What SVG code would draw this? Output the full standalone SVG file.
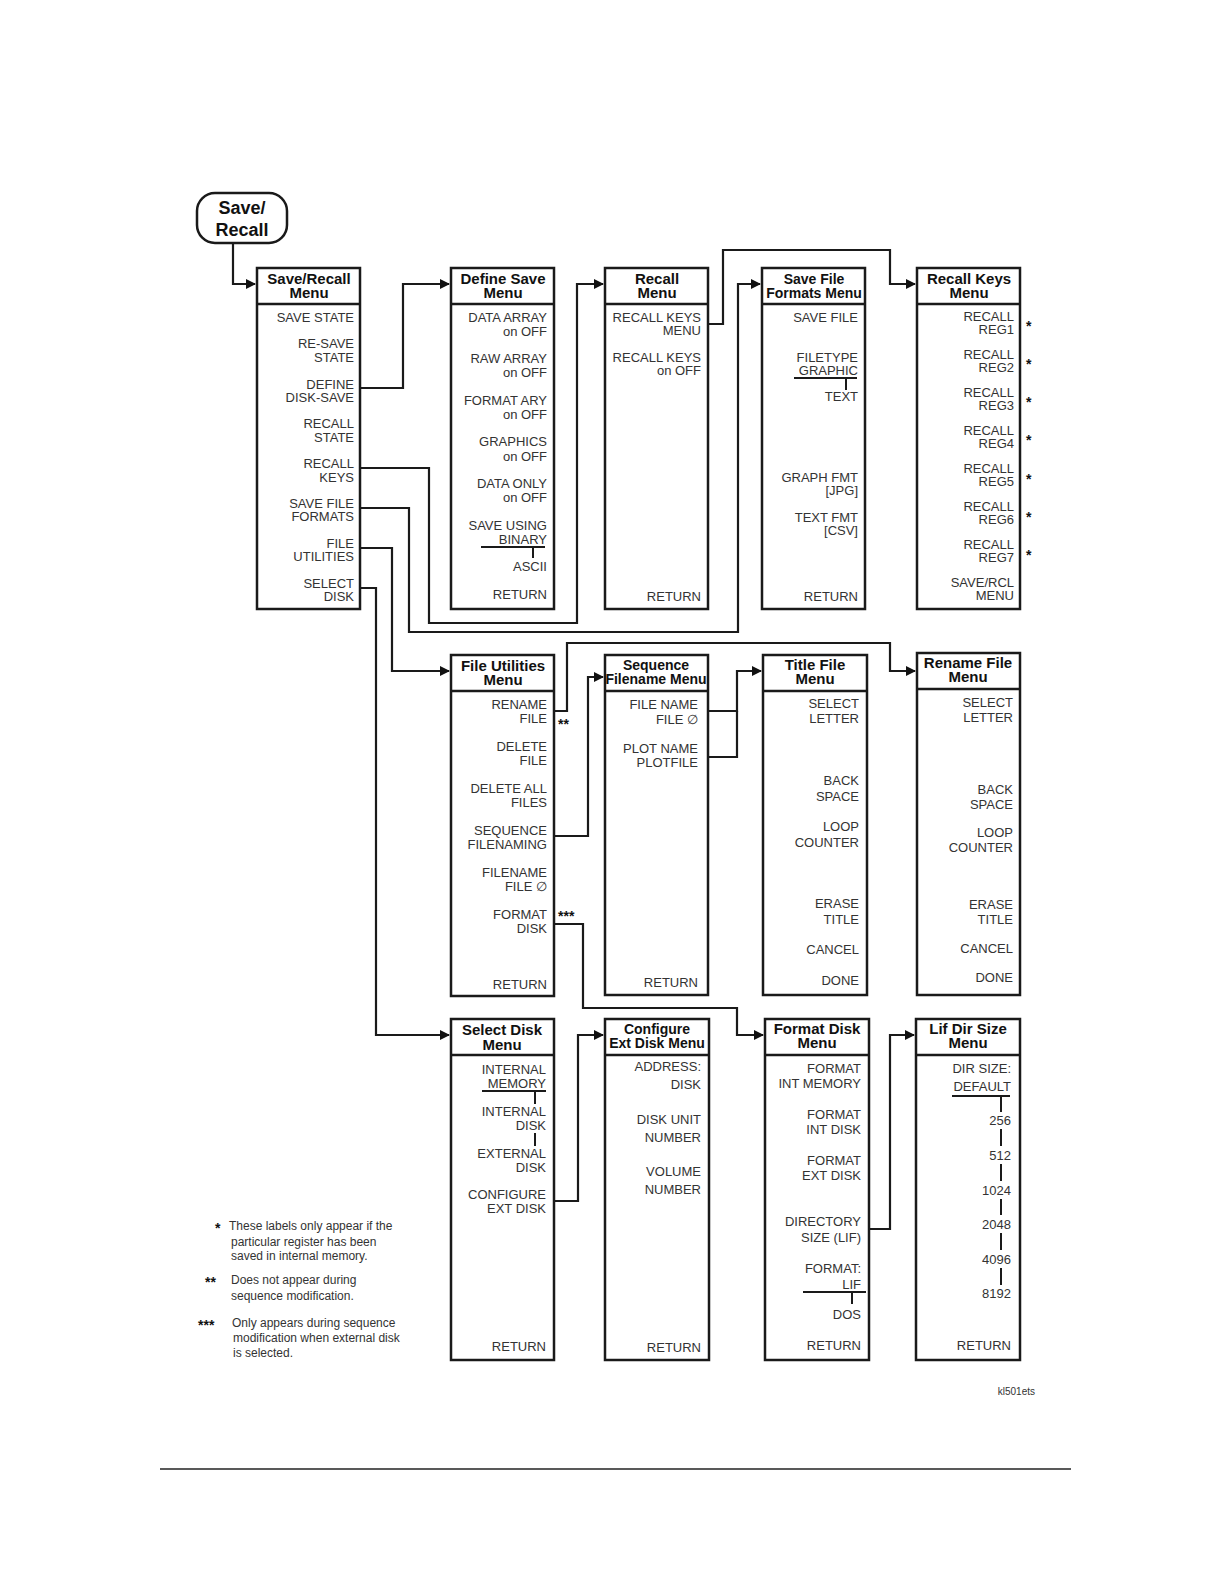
<svg xmlns="http://www.w3.org/2000/svg" width="1224" height="1582" viewBox="0 0 1224 1582">
<defs>
<marker id="ar" markerWidth="10" markerHeight="10" refX="9" refY="5" orient="auto" markerUnits="userSpaceOnUse"><path d="M0,0 L10,5 L0,10 z" fill="#111"/></marker>
<style>
.box{fill:#fff;stroke:#1a1a1a;stroke-width:2.5}
.hl{stroke:#1a1a1a;stroke-width:2.5}
.h{font-family:"Liberation Sans",Arial,sans-serif;font-size:15px;font-weight:bold;fill:#111;text-anchor:middle}
.t{font-family:"Liberation Sans",Arial,sans-serif;font-size:13px;fill:#333;text-anchor:end}
.s{font-family:"Liberation Sans",Arial,sans-serif;font-size:14px;font-weight:bold;fill:#111}
.n{font-family:"Liberation Sans",Arial,sans-serif;font-size:12px;fill:#333}
.c{fill:none;stroke:#1a1a1a;stroke-width:2.2}
.k{stroke:#1a1a1a;stroke-width:2}
</style>
</defs>
<rect width="1224" height="1582" fill="#fff"/>

<g id="connectors">
<path class="c" d="M233,243 V284 H255" marker-end="url(#ar)"/>
<path class="c" d="M360,388 H403 V284 H449" marker-end="url(#ar)"/>
<path class="c" d="M360,468 H429 V623 H577 V284 H603" marker-end="url(#ar)"/>
<path class="c" d="M360,508 H409 V632 H738 V284 H760" marker-end="url(#ar)"/>
<path class="c" d="M708,324 H723 V250 H890 V284 H915" marker-end="url(#ar)"/>
<path class="c" d="M360,548 H392 V671 H449" marker-end="url(#ar)"/>
<path class="c" d="M360,588 H376 V1035 H449" marker-end="url(#ar)"/>
<path class="c" d="M554,711 H567 V643 H890 V671 H915" marker-end="url(#ar)"/>
<path class="c" d="M554,836 H588 V677 H603" marker-end="url(#ar)"/>
<path class="c" d="M708,711 H737 V671 H761" marker-end="url(#ar)"/>
<path class="c" d="M708,757 H737 V711"/>
<path class="c" d="M554,924 H583 V1008 H737 V1035 H763" marker-end="url(#ar)"/>
<path class="c" d="M554,1201 H578 V1035 H603" marker-end="url(#ar)"/>
<path class="c" d="M869,1229 H890 V1035 H914" marker-end="url(#ar)"/>
</g>

<g id="save-recall-key">
<rect x="197" y="193" width="90" height="50" rx="18" fill="#fff" stroke="#1a1a1a" stroke-width="2.5"/>
<text class="h" x="242" y="214" style="font-size:18px">Save/</text>
<text class="h" x="242" y="236" style="font-size:18px">Recall</text>
</g>

<g id="save-recall-menu">
<rect class="box" x="257" y="268" width="103" height="341"/><line class="hl" x1="257" y1="304" x2="360" y2="304"/>
<text class="h" x="309" y="284">Save/Recall</text><text class="h" x="309" y="298">Menu</text>
<text class="t" x="354" y="322">SAVE STATE</text>
<text class="t" x="354" y="348">RE-SAVE</text><text class="t" x="354" y="362">STATE</text>
<text class="t" x="354" y="389">DEFINE</text><text class="t" x="354" y="402">DISK-SAVE</text>
<text class="t" x="354" y="428">RECALL</text><text class="t" x="354" y="442">STATE</text>
<text class="t" x="354" y="468">RECALL</text><text class="t" x="354" y="482">KEYS</text>
<text class="t" x="354" y="508">SAVE FILE</text><text class="t" x="354" y="521">FORMATS</text>
<text class="t" x="354" y="548">FILE</text><text class="t" x="354" y="561">UTILITIES</text>
<text class="t" x="354" y="588">SELECT</text><text class="t" x="354" y="601">DISK</text>
</g>

<g id="define-save-menu">
<rect class="box" x="451" y="268" width="103" height="341"/><line class="hl" x1="451" y1="304" x2="554" y2="304"/>
<text class="h" x="503" y="284">Define Save</text><text class="h" x="503" y="298">Menu</text>
<text class="t" x="547" y="322">DATA ARRAY</text><text class="t" x="547" y="336">on OFF</text>
<text class="t" x="547" y="363">RAW ARRAY</text><text class="t" x="547" y="377">on OFF</text>
<text class="t" x="547" y="405">FORMAT ARY</text><text class="t" x="547" y="419">on OFF</text>
<text class="t" x="547" y="446">GRAPHICS</text><text class="t" x="547" y="461">on OFF</text>
<text class="t" x="547" y="488">DATA ONLY</text><text class="t" x="547" y="502">on OFF</text>
<text class="t" x="547" y="530">SAVE USING</text><text class="t" x="547" y="544">BINARY</text>
<line class="k" x1="481" y1="547" x2="545" y2="547"/><line class="k" x1="533" y1="547" x2="533" y2="558"/>
<text class="t" x="547" y="571">ASCII</text>
<text class="t" x="547" y="599">RETURN</text>
</g>

<g id="recall-menu">
<rect class="box" x="605" y="268" width="103" height="341"/><line class="hl" x1="605" y1="304" x2="708" y2="304"/>
<text class="h" x="657" y="284">Recall</text><text class="h" x="657" y="298">Menu</text>
<text class="t" x="701" y="322">RECALL KEYS</text><text class="t" x="701" y="335">MENU</text>
<text class="t" x="701" y="362">RECALL KEYS</text><text class="t" x="701" y="375">on OFF</text>
<text class="t" x="701" y="601">RETURN</text>
</g>

<g id="save-file-formats-menu">
<rect class="box" x="762" y="268" width="103" height="341"/><line class="hl" x1="762" y1="304" x2="865" y2="304"/>
<text class="h" x="814" y="284" style="font-size:14px">Save File</text><text class="h" x="814" y="298" style="font-size:14px">Formats Menu</text>
<text class="t" x="858" y="322">SAVE FILE</text>
<text class="t" x="858" y="362">FILETYPE</text><text class="t" x="858" y="375">GRAPHIC</text>
<line class="k" x1="794" y1="378" x2="857" y2="378"/><line class="k" x1="846" y1="378" x2="846" y2="390"/>
<text class="t" x="858" y="401">TEXT</text>
<text class="t" x="858" y="482">GRAPH FMT</text><text class="t" x="858" y="495">[JPG]</text>
<text class="t" x="858" y="522">TEXT FMT</text><text class="t" x="858" y="535">[CSV]</text>
<text class="t" x="858" y="601">RETURN</text>
</g>

<g id="recall-keys-menu">
<rect class="box" x="917" y="268" width="103" height="341"/><line class="hl" x1="917" y1="304" x2="1020" y2="304"/>
<text class="h" x="969" y="284">Recall Keys</text><text class="h" x="969" y="298">Menu</text>
<text class="t" x="1014" y="321">RECALL</text><text class="t" x="1014" y="334">REG1</text>
<text class="t" x="1014" y="359">RECALL</text><text class="t" x="1014" y="372">REG2</text>
<text class="t" x="1014" y="397">RECALL</text><text class="t" x="1014" y="410">REG3</text>
<text class="t" x="1014" y="435">RECALL</text><text class="t" x="1014" y="448">REG4</text>
<text class="t" x="1014" y="473">RECALL</text><text class="t" x="1014" y="486">REG5</text>
<text class="t" x="1014" y="511">RECALL</text><text class="t" x="1014" y="524">REG6</text>
<text class="t" x="1014" y="549">RECALL</text><text class="t" x="1014" y="562">REG7</text>
<text class="t" x="1014" y="587">SAVE/RCL</text><text class="t" x="1014" y="600">MENU</text>
<text class="s" x="1026" y="331">*</text><text class="s" x="1026" y="369">*</text><text class="s" x="1026" y="407">*</text><text class="s" x="1026" y="445">*</text><text class="s" x="1026" y="484">*</text><text class="s" x="1026" y="522">*</text><text class="s" x="1026" y="560">*</text>
</g>

<g id="file-utilities-menu">
<rect class="box" x="451" y="655" width="103" height="341"/><line class="hl" x1="451" y1="691" x2="554" y2="691"/>
<text class="h" x="503" y="671">File Utilities</text><text class="h" x="503" y="685">Menu</text>
<text class="t" x="547" y="709">RENAME</text><text class="t" x="547" y="723">FILE</text>
<text class="t" x="547" y="751">DELETE</text><text class="t" x="547" y="765">FILE</text>
<text class="t" x="547" y="793">DELETE ALL</text><text class="t" x="547" y="807">FILES</text>
<text class="t" x="547" y="835">SEQUENCE</text><text class="t" x="547" y="849">FILENAMING</text>
<text class="t" x="547" y="877">FILENAME</text><text class="t" x="547" y="891">FILE ∅</text>
<text class="t" x="547" y="919">FORMAT</text><text class="t" x="547" y="933">DISK</text>
<text class="t" x="547" y="989">RETURN</text>
<text class="s" x="558" y="729">**</text><text class="s" x="558" y="921">***</text>
</g>

<g id="sequence-filename-menu">
<rect class="box" x="605" y="655" width="103" height="340"/><line class="hl" x1="605" y1="691" x2="708" y2="691"/>
<text class="h" x="656" y="670" style="font-size:14px">Sequence</text><text class="h" x="656" y="684" style="font-size:14px">Filename Menu</text>
<text class="t" x="698" y="709">FILE NAME</text><text class="t" x="698" y="724">FILE ∅</text>
<text class="t" x="698" y="753">PLOT NAME</text><text class="t" x="698" y="767">PLOTFILE</text>
<text class="t" x="698" y="987">RETURN</text>
</g>

<g id="title-file-menu">
<rect class="box" x="763" y="655" width="104" height="340"/><line class="hl" x1="763" y1="691" x2="867" y2="691"/>
<text class="h" x="815" y="670">Title File</text><text class="h" x="815" y="684">Menu</text>
<text class="t" x="859" y="708">SELECT</text><text class="t" x="859" y="723">LETTER</text>
<text class="t" x="859" y="785">BACK</text><text class="t" x="859" y="801">SPACE</text>
<text class="t" x="859" y="831">LOOP</text><text class="t" x="859" y="847">COUNTER</text>
<text class="t" x="859" y="908">ERASE</text><text class="t" x="859" y="924">TITLE</text>
<text class="t" x="859" y="954">CANCEL</text>
<text class="t" x="859" y="985">DONE</text>
</g>

<g id="rename-file-menu">
<rect class="box" x="917" y="653" width="103" height="342"/><line class="hl" x1="917" y1="689" x2="1020" y2="689"/>
<text class="h" x="968" y="668">Rename File</text><text class="h" x="968" y="682">Menu</text>
<text class="t" x="1013" y="707">SELECT</text><text class="t" x="1013" y="722">LETTER</text>
<text class="t" x="1013" y="794">BACK</text><text class="t" x="1013" y="809">SPACE</text>
<text class="t" x="1013" y="837">LOOP</text><text class="t" x="1013" y="852">COUNTER</text>
<text class="t" x="1013" y="909">ERASE</text><text class="t" x="1013" y="924">TITLE</text>
<text class="t" x="1013" y="953">CANCEL</text>
<text class="t" x="1013" y="982">DONE</text>
</g>

<g id="select-disk-menu">
<rect class="box" x="451" y="1019" width="103" height="341"/><line class="hl" x1="451" y1="1055" x2="554" y2="1055"/>
<text class="h" x="502" y="1035">Select Disk</text><text class="h" x="502" y="1050">Menu</text>
<text class="t" x="546" y="1074">INTERNAL</text><text class="t" x="546" y="1088">MEMORY</text>
<line class="k" x1="482" y1="1091" x2="546" y2="1091"/><line class="k" x1="535" y1="1091" x2="535" y2="1104"/>
<text class="t" x="546" y="1116">INTERNAL</text><text class="t" x="546" y="1130">DISK</text>
<line class="k" x1="535" y1="1133" x2="535" y2="1146"/>
<text class="t" x="546" y="1158">EXTERNAL</text><text class="t" x="546" y="1172">DISK</text>
<text class="t" x="546" y="1199">CONFIGURE</text><text class="t" x="546" y="1213">EXT DISK</text>
<text class="t" x="546" y="1351">RETURN</text>
</g>

<g id="configure-ext-disk-menu">
<rect class="box" x="605" y="1019" width="104" height="341"/><line class="hl" x1="605" y1="1055" x2="709" y2="1055"/>
<text class="h" x="657" y="1034" style="font-size:14px">Configure</text><text class="h" x="657" y="1048" style="font-size:14px">Ext Disk Menu</text>
<text class="t" x="701" y="1071">ADDRESS:</text><text class="t" x="701" y="1089">DISK</text>
<text class="t" x="701" y="1124">DISK UNIT</text><text class="t" x="701" y="1142">NUMBER</text>
<text class="t" x="701" y="1176">VOLUME</text><text class="t" x="701" y="1194">NUMBER</text>
<text class="t" x="701" y="1352">RETURN</text>
</g>

<g id="format-disk-menu">
<rect class="box" x="765" y="1019" width="104" height="341"/><line class="hl" x1="765" y1="1055" x2="869" y2="1055"/>
<text class="h" x="817" y="1034">Format Disk</text><text class="h" x="817" y="1048">Menu</text>
<text class="t" x="861" y="1073">FORMAT</text><text class="t" x="861" y="1088">INT MEMORY</text>
<text class="t" x="861" y="1119">FORMAT</text><text class="t" x="861" y="1134">INT DISK</text>
<text class="t" x="861" y="1165">FORMAT</text><text class="t" x="861" y="1180">EXT DISK</text>
<text class="t" x="861" y="1226">DIRECTORY</text><text class="t" x="861" y="1242">SIZE (LIF)</text>
<text class="t" x="861" y="1273">FORMAT:</text><text class="t" x="861" y="1289">LIF</text>
<line class="k" x1="803" y1="1292" x2="866" y2="1292"/><line class="k" x1="852" y1="1292" x2="852" y2="1304"/>
<text class="t" x="861" y="1319">DOS</text>
<text class="t" x="861" y="1350">RETURN</text>
</g>

<g id="lif-dir-size-menu">
<rect class="box" x="916" y="1019" width="104" height="341"/><line class="hl" x1="916" y1="1055" x2="1020" y2="1055"/>
<text class="h" x="968" y="1034">Lif Dir Size</text><text class="h" x="968" y="1048">Menu</text>
<text class="t" x="1011" y="1073">DIR SIZE:</text><text class="t" x="1011" y="1091">DEFAULT</text>
<line class="k" x1="952" y1="1096" x2="1010" y2="1096"/><line class="k" x1="1001" y1="1096" x2="1001" y2="1112"/>
<text class="t" x="1011" y="1125">256</text>
<line class="k" x1="1001" y1="1129" x2="1001" y2="1146"/>
<text class="t" x="1011" y="1160">512</text>
<line class="k" x1="1001" y1="1164" x2="1001" y2="1181"/>
<text class="t" x="1011" y="1195">1024</text>
<line class="k" x1="1001" y1="1199" x2="1001" y2="1215"/>
<text class="t" x="1011" y="1229">2048</text>
<line class="k" x1="1001" y1="1233" x2="1001" y2="1250"/>
<text class="t" x="1011" y="1264">4096</text>
<line class="k" x1="1001" y1="1268" x2="1001" y2="1285"/>
<text class="t" x="1011" y="1298">8192</text>
<text class="t" x="1011" y="1350">RETURN</text>
</g>

<g id="notes">
<text class="s" x="215" y="1233">*</text><text class="n" x="229" y="1230">These labels only appear if the</text>
<text class="n" x="231" y="1246">particular register has been</text>
<text class="n" x="231" y="1260">saved in internal memory.</text>
<text class="s" x="205" y="1287">**</text><text class="n" x="231" y="1284">Does not appear during</text>
<text class="n" x="231" y="1300">sequence modification.</text>
<text class="s" x="198" y="1330">***</text><text class="n" x="232" y="1327">Only appears during sequence</text>
<text class="n" x="233" y="1342">modification when external disk</text>
<text class="n" x="233" y="1357">is selected.</text>
<text class="n" x="1035" y="1395" style="font-size:10px;text-anchor:end">kl501ets</text>
<line x1="160" y1="1469" x2="1071" y2="1469" stroke="#222" stroke-width="1.5"/>
</g>
</svg>
